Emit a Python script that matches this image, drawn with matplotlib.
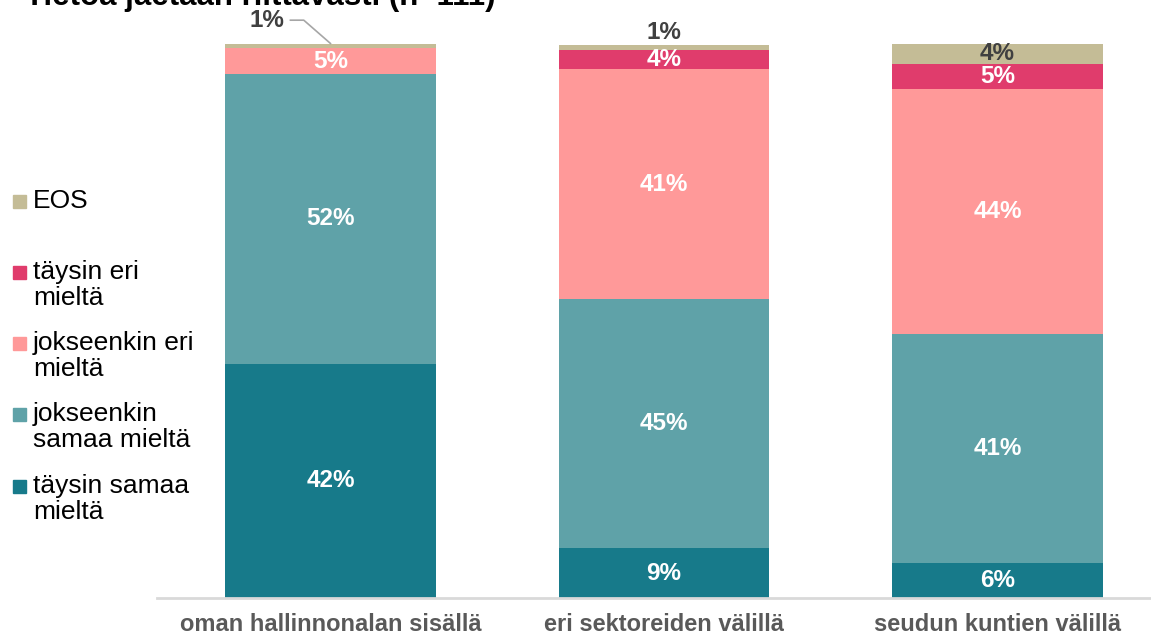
import matplotlib
matplotlib.use("Agg")
import matplotlib.pyplot as plt
from matplotlib.patches import Rectangle

plt.rcParams['font.family'] = ['Liberation Sans', 'DejaVu Sans']

title = "Tietoa jaetaan riittävästi (n=111)"
categories = ['oman hallinnonalan sisällä', 'eri sektoreiden välillä', 'seudun kuntien välillä']
series = ['täysin samaa mieltä', 'jokseenkin samaa mieltä', 'jokseenkin eri mieltä',
          'täysin eri mieltä', 'EOS']
legend_labels = ['täysin samaa\nmieltä', 'jokseenkin\nsamaa mieltä', 'jokseenkin eri\nmieltä',
                 'täysin eri\nmieltä', 'EOS']
taysin_samaa = [42.3, 9.0, 6.3]
jokseenkin_samaa = [52.3, 45.0, 41.4]
jokseenkin_eri = [4.6, 41.4, 44.1]
taysin_eri = [0.0, 3.6, 4.6]
eos = [0.9, 0.9, 3.6]

values = [taysin_samaa, jokseenkin_samaa, jokseenkin_eri, taysin_eri, eos]
colors = ['#177A8A', '#5FA2A8', '#FF9999', '#E03C6C', '#C4BC96']
label_colors = ['white', 'white', 'white', 'white', '#404040']

W, H = 1151, 637
fig = plt.figure(figsize=(W / 100, H / 100), dpi=100)

def fx(px):
    return px / W

def fy(py):
    return 1 - py / H

ax = fig.add_axes([fx(157), fy(598), fx(W - 157), fy(44) - fy(598)])
ax.set_xlim(-0.52, 2.46)
ax.set_ylim(0, 100)

x = list(range(len(categories)))
bottoms = [0.0] * len(categories)
for si, (vals, col) in enumerate(zip(values, colors)):
    ax.bar(x, vals, width=0.63, bottom=bottoms, color=col, edgecolor='none', zorder=2)
    for i, v in enumerate(vals):
        if v <= 0:
            continue
        cy = bottoms[i] + v / 2
        txt = f"{int(v + 0.5)}%"
        if si == 4 and v < 2:
            if i == 0:
                tx, ty = -0.19, 104.3
                ax.text(tx, ty, txt, ha='center', va='center', fontsize=17.5,
                        fontweight='bold', color='#404040', clip_on=False)
                ax.plot([tx + 0.07, tx + 0.11, i], [ty, ty, bottoms[i] + v],
                        color='#A6A6A6', lw=1.2, clip_on=False, zorder=3)
            else:
                ax.text(i, 102.0, txt, ha='center', va='center', fontsize=17.5,
                        fontweight='bold', color='#404040', clip_on=False)
        else:
            ax.text(i, cy, txt, ha='center', va='center', fontsize=17.5,
                    fontweight='bold', color=label_colors[si], zorder=4)
    bottoms = [b + v for b, v in zip(bottoms, vals)]

for s in ['top', 'right', 'left']:
    ax.spines[s].set_visible(False)
ax.spines['bottom'].set_color('#D9D9D9')
ax.spines['bottom'].set_linewidth(2)
ax.set_yticks([])
ax.set_xticks(x)
ax.set_xticklabels(categories, fontsize=17, fontweight='bold', color='#595959')
ax.tick_params(axis='x', length=0, pad=11)

# legend (top to bottom: EOS first)
leg_centers = [486, 414, 343, 272, 201]
for si in range(len(series)):
    cy = leg_centers[si]
    fig.patches.append(Rectangle((fx(13), fy(cy + 6.5)), fx(13), fy(0) - fy(13),
                                 transform=fig.transFigure, color=colors[si]))
    fig.text(fx(33), fy(cy - 12), legend_labels[si], ha='left', va='top',
             fontsize=19, color='#000000', linespacing=1.13)

fig.text(fx(25), fy(5), title, ha='left', va='baseline', fontsize=22.5,
         fontweight='bold', color='#000000')

fig.savefig('out.png', dpi=100)
